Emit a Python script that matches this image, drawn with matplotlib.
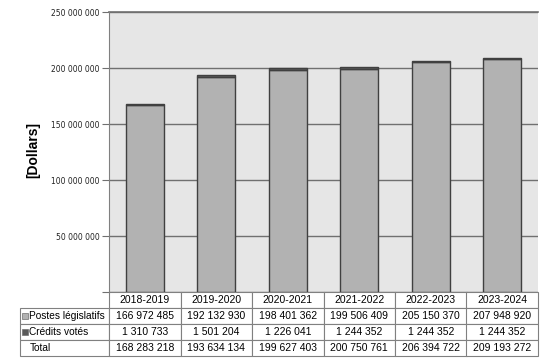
import numpy as np
import matplotlib
matplotlib.use("Agg")
import matplotlib.pyplot as plt
from matplotlib.patches import Rectangle

# data
years = ["2018-2019", "2019-2020", "2020-2021", "2021-2022", "2022-2023", "2023-2024"]
postes_legislatifs = [166972485, 192132930, 198401362, 199506409, 205150370, 207948920]
credits_votes = [1310733, 1501204, 1226041, 1244352, 1244352, 1244352]
totals = [168283218, 193634134, 199627403, 200750761, 206394722, 209193272]
row_names = ["Postes législatifs", "Crédits votés", "Total"]
y_ticks = [0, 50000000, 100000000, 150000000, 200000000, 250000000]

c_leg = "#b2b2b2"
c_vot = "#595959"
edge = "#404040"


def fmt(v):
    return "{:,}".format(v).replace(",", " ")


W, H = 547, 359
fig = plt.figure(figsize=(W / 100, H / 100), dpi=100)
plt.rcParams['font.family'] = ['Liberation Sans', 'DejaVu Sans']

x0, x1, y_top, y_bot = 109, 538, 12, 292
ax = fig.add_axes([x0 / W, 1 - y_bot / H, (x1 - x0) / W, (y_bot - y_top) / H])
ax.set_facecolor("#e6e6e6")

x = np.arange(len(years))
ax.bar(x, postes_legislatifs, width=0.53, color=c_leg, edgecolor=edge, linewidth=1, zorder=3)
ax.bar(x, credits_votes, bottom=postes_legislatifs, width=0.53, color=c_vot,
       edgecolor=edge, linewidth=1, zorder=3)

ax.set_xlim(-0.5, len(years) - 0.5)
ax.set_ylim(0, 250000000)
ax.set_yticks(y_ticks)
ax.set_yticklabels([""] + [fmt(v) for v in y_ticks[1:]], fontsize=5.5, color="#222222",
                   family=["DejaVu Sans"])
ax.tick_params(axis="y", length=5, color="#707070", pad=2)
ax.set_xticks([])
ax.yaxis.grid(True, color="#707070", linewidth=1, zorder=1)
for s in ["top", "right", "bottom"]:
    ax.spines[s].set_visible(False)
ax.spines["left"].set_color("#808080")
ax.axhline(250000000, color="#707070", linewidth=1.2, clip_on=False)

fig.text(33 / W, 1 - 150 / H, "[Dollars]", rotation=90, fontsize=10, fontweight="bold",
         ha="center", va="center")

# table underneath the plot
cells = [[""] + years]
cells.append([row_names[0]] + [fmt(v) for v in postes_legislatifs])
cells.append([row_names[1]] + [fmt(v) for v in credits_votes])
cells.append([row_names[2]] + [fmt(v) for v in totals])

tx0, ty_top, ty_bot = 20, 292, 356
axw = x1 - x0
axh = y_bot - y_top
label_w = x0 - tx0
col_w = axw / len(years)
tbl = ax.table(cellText=cells, cellLoc="center",
               colWidths=[label_w] + [col_w] * len(years),
               bbox=[(tx0 - x0) / axw, -(ty_bot - y_bot) / axh, (x1 - tx0) / axw, (ty_bot - y_bot) / axh])
tbl.auto_set_font_size(False)
for (r, c), cell in tbl.get_celld().items():
    cell.set_edgecolor("#808080")
    cell.set_linewidth(0.8)
    cell.set_facecolor("white")
    cell.get_text().set_fontsize(7.5)
    if c == 0:
        cell.get_text().set_ha("left")
        cell.get_text().set_fontsize(7.3)
        cell._loc = "left"
        cell.PAD = 0.105
    if r == 0 and c == 0:
        cell.visible_edges = ""

# legend squares in label cells
row_h = (ty_bot - y_bot) / 4
for i, col in enumerate([c_leg, c_vot]):
    yc = y_bot + row_h * (i + 1.5)
    fig.add_artist(Rectangle((22 / W, 1 - (yc + 3) / H), 6 / W, 6 / H, facecolor=col,
                             edgecolor="#707070", linewidth=0.5, transform=fig.transFigure))

fig.savefig("out.png", dpi=100)
